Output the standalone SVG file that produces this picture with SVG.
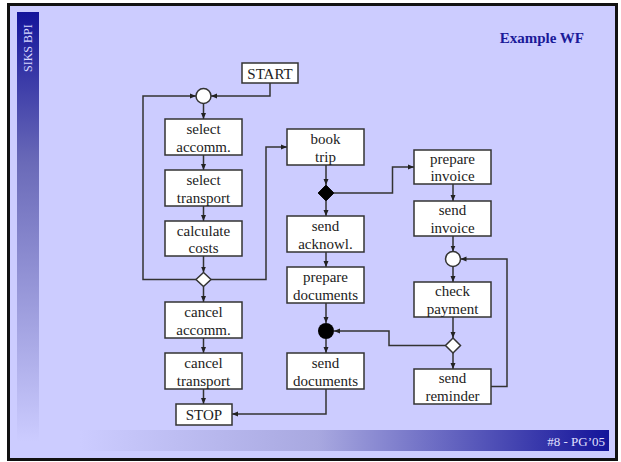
<svg xmlns="http://www.w3.org/2000/svg" width="621" height="462" viewBox="0 0 621 462">
<defs>
<linearGradient id="lbar" x1="0" y1="0" x2="0" y2="1">
<stop offset="0" stop-color="#14149a"/>
<stop offset="0.35" stop-color="#6a6ab8"/>
<stop offset="1" stop-color="#ccccff"/>
</linearGradient>
<linearGradient id="bbar" x1="0" y1="0" x2="1" y2="0">
<stop offset="0" stop-color="#ccccff"/>
<stop offset="0.45" stop-color="#a8a8e0"/>
<stop offset="1" stop-color="#14149a"/>
</linearGradient>
<marker id="ah" markerUnits="userSpaceOnUse" markerWidth="7" markerHeight="6" refX="6" refY="3" orient="auto">
<path d="M0,0.5 L6,3 L0,5.5 z" fill="#222"/>
</marker>
<style>
.box{fill:#fff;stroke:#333;stroke-width:1.5}
.t{font-family:"Liberation Serif","Times New Roman",Times,"DejaVu Serif",serif;font-size:15px;fill:#222;text-anchor:middle}
.s{font-family:"Liberation Serif","Times New Roman",Times,"DejaVu Serif",serif}
.e{fill:none;stroke:#333;stroke-width:1.5;marker-end:url(#ah)}
</style>
</defs>
<rect x="0" y="0" width="621" height="462" fill="#fff"/>
<rect x="8.5" y="4.5" width="608" height="455" fill="#ccccff" stroke="#111" stroke-width="3"/>
<rect x="17" y="12" width="22" height="430" fill="url(#lbar)"/>
<rect x="80" y="430" width="529" height="21" fill="url(#bbar)"/>
<text class="s" x="0" y="0" transform="translate(32,72) rotate(-90)" font-size="12" fill="#d8d8ff">SIKS BPI</text>
<text class="s" x="584" y="43" text-anchor="end" font-size="15" font-weight="bold" fill="#1a1a99">Example WF</text>
<text class="s" x="605" y="446" text-anchor="end" font-size="13" fill="#e0e0ff">#8 - PG’05</text>

<g id="connectors">
<path class="e" d="M270 83 V96 H211"/>
<path class="e" d="M203.5 103.5 V119"/>
<path class="e" d="M203.5 155 V170"/>
<path class="e" d="M203.5 206 V221"/>
<path class="e" d="M203.5 256 V272.5"/>
<path class="e" d="M196 279.5 H143 V96 H196"/>
<path class="e" d="M211 279.5 H266 V147 H287"/>
<path class="e" d="M203.5 286.5 V302"/>
<path class="e" d="M203.5 338 V353"/>
<path class="e" d="M203.5 389 V404"/>
<path class="e" d="M326 165 V185"/>
<path class="e" d="M326 201 V216"/>
<path class="e" d="M326 252 V267"/>
<path class="e" d="M326 303 V323"/>
<path class="e" d="M326 339 V353"/>
<path class="e" d="M326 389 V414 H232"/>
<path class="e" d="M334 193 H392.5 V167 H414"/>
<path class="e" d="M453 184 V201"/>
<path class="e" d="M453 236 V251.5"/>
<path class="e" d="M453 266.5 V282"/>
<path class="e" d="M453 317 V338"/>
<path class="e" d="M453 353 V369"/>
<path class="e" d="M445.5 345.5 H389 V331 H334"/>
<path class="e" d="M491 386.5 H507 V259 H460.5"/>
</g>

<g id="start"><rect class="box" x="242" y="63" width="56" height="20"/><text class="t" x="270" y="78.5">START</text></g>
<g id="join1"><circle cx="203.5" cy="96" r="7.5" fill="#fff" stroke="#333" stroke-width="1.5"/></g>
<g id="select-accomm"><rect class="box" x="165" y="119" width="77" height="36"/><text class="t" x="203.5" y="133.5">select</text><text class="t" x="203.5" y="151.5">accomm.</text></g>
<g id="select-transport"><rect class="box" x="165" y="170" width="77" height="36"/><text class="t" x="203.5" y="184.5">select</text><text class="t" x="203.5" y="202.5">transport</text></g>
<g id="calculate-costs"><rect class="box" x="165" y="221" width="77" height="35"/><text class="t" x="203.5" y="235.5">calculate</text><text class="t" x="203.5" y="253">costs</text></g>
<g id="split1"><path d="M203.5 272.5 L211 279.5 L203.5 286.5 L196 279.5 z" fill="#fff" stroke="#333" stroke-width="1.5"/></g>
<g id="cancel-accomm"><rect class="box" x="165" y="302" width="77" height="36"/><text class="t" x="203.5" y="316.5">cancel</text><text class="t" x="203.5" y="334.5">accomm.</text></g>
<g id="cancel-transport"><rect class="box" x="165" y="353" width="77" height="36"/><text class="t" x="203.5" y="367.5">cancel</text><text class="t" x="203.5" y="385.5">transport</text></g>
<g id="stop"><rect class="box" x="176" y="404" width="56" height="21"/><text class="t" x="204" y="419.5">STOP</text></g>

<g id="book-trip"><rect class="box" x="287" y="129" width="77" height="36"/><text class="t" x="325.5" y="143.5">book</text><text class="t" x="325.5" y="161.5">trip</text></g>
<g id="split2"><path d="M326 185 L334 193 L326 201 L318 193 z" fill="#000" stroke="#111" stroke-width="1"/></g>
<g id="send-acknowl"><rect class="box" x="287" y="216" width="77" height="36"/><text class="t" x="325.5" y="230.5">send</text><text class="t" x="325.5" y="248.5">acknowl.</text></g>
<g id="prepare-documents"><rect class="box" x="287" y="267" width="77" height="36"/><text class="t" x="325.5" y="281.5">prepare</text><text class="t" x="325.5" y="299.5">documents</text></g>
<g id="join2"><circle cx="326" cy="331" r="8" fill="#000"/></g>
<g id="send-documents"><rect class="box" x="287" y="353" width="77" height="36"/><text class="t" x="325.5" y="367.5">send</text><text class="t" x="325.5" y="385.5">documents</text></g>

<g id="prepare-invoice"><rect class="box" x="414" y="150" width="77" height="34"/><text class="t" x="452.5" y="164">prepare</text><text class="t" x="452.5" y="181">invoice</text></g>
<g id="send-invoice"><rect class="box" x="414" y="201" width="77" height="35"/><text class="t" x="452.5" y="215">send</text><text class="t" x="452.5" y="232.5">invoice</text></g>
<g id="join3"><circle cx="453" cy="259" r="7.5" fill="#fff" stroke="#333" stroke-width="1.5"/></g>
<g id="check-payment"><rect class="box" x="414" y="282" width="77" height="35"/><text class="t" x="452.5" y="296">check</text><text class="t" x="452.5" y="313.5">payment</text></g>
<g id="split3"><path d="M453 338 L460.5 345.5 L453 353 L445.5 345.5 z" fill="#fff" stroke="#333" stroke-width="1.5"/></g>
<g id="send-reminder"><rect class="box" x="414" y="369" width="77" height="35"/><text class="t" x="452.5" y="383">send</text><text class="t" x="452.5" y="400.5">reminder</text></g>
</svg>
